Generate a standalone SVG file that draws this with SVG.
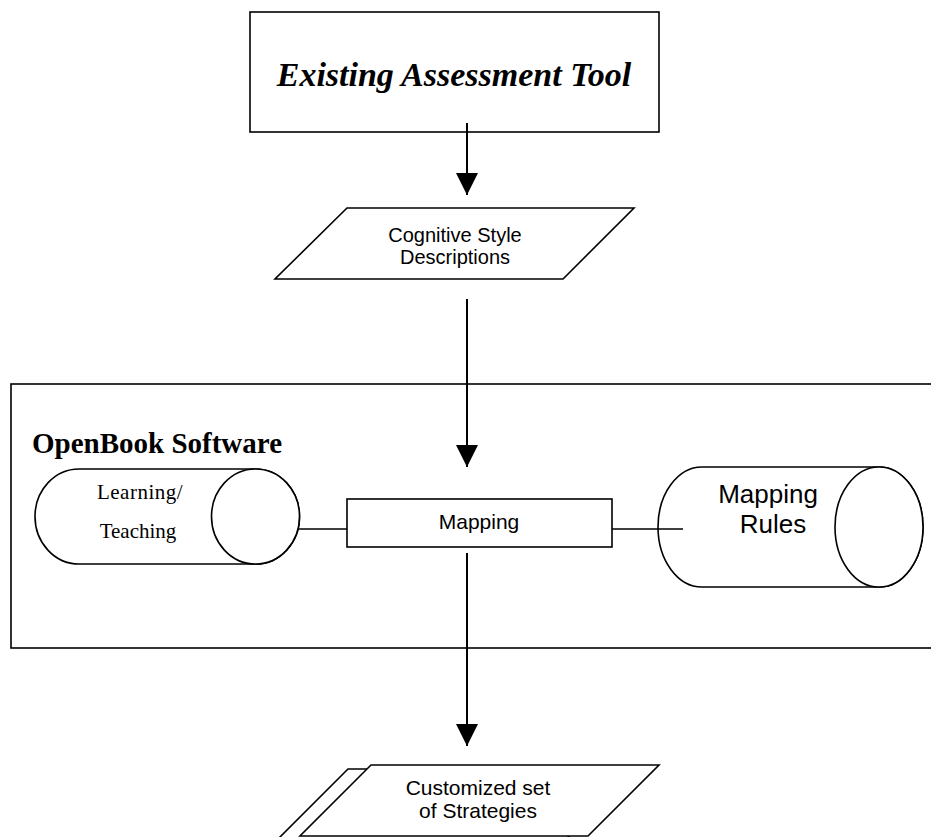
<svg xmlns="http://www.w3.org/2000/svg" width="931" height="837" viewBox="0 0 931 837">
<style>
.s{fill:#fff;stroke:#000;stroke-width:1.6}
.n{fill:none;stroke:#000;stroke-width:1.6}
.c{fill:none;stroke:#000;stroke-width:2}
.a{font-family:"Liberation Sans",Arial,sans-serif;fill:#000;text-anchor:middle}
.t{font-family:"Liberation Serif","Times New Roman",serif;fill:#000;text-anchor:middle}
.ts{font-family:"Liberation Serif","Times New Roman",serif;fill:#000;text-anchor:start}
</style>
<defs>
<marker id="arr" markerUnits="userSpaceOnUse" markerWidth="22" markerHeight="22" viewBox="0 0 20 20" refX="20" refY="10" orient="auto">
<path d="M0,0 L20,10 L0,20 Z" fill="#000"/>
</marker>
</defs>
<rect width="931" height="837" fill="#fff"/>
<g id="openbook">
<rect class="n" x="11" y="384" width="930" height="264"/>
<text class="ts" x="32" y="453" font-size="29" font-weight="bold">OpenBook Software</text>
</g>
<g id="assessment">
<rect class="s" x="250" y="12" width="409" height="120"/>
<text class="t" x="454" y="86" font-size="34" font-weight="bold" font-style="italic">Existing Assessment Tool</text>
</g>
<g id="cognitive">
<polygon class="s" points="347,208 634,208 563,279 275,279"/>
<text class="a" x="455" y="242" font-size="20">Cognitive Style</text>
<text class="a" x="455" y="264" font-size="20">Descriptions</text>
</g>
<g id="learning">
<path class="s" d="M79,469 H255.5 A44,47.5 0 0 1 255.5,564 H79 A44,47.5 0 0 1 79,469 Z"/>
<ellipse class="s" cx="255.5" cy="516.5" rx="44" ry="47.5"/>
<text class="t" x="140" y="499" font-size="21" letter-spacing="0.5">Learning/</text>
<text class="t" x="138" y="538" font-size="21">Teaching</text>
</g>
<g id="mapping">
<rect class="s" x="347" y="499" width="265" height="48"/>
<text class="a" x="479" y="529" font-size="21">Mapping</text>
</g>
<g id="rules">
<path class="s" d="M702,467 H879 A44,60 0 0 1 879,587 H702 A44,60 0 0 1 702,467 Z"/>
<ellipse class="s" cx="879" cy="527" rx="44" ry="60"/>
<text class="a" x="768" y="503" font-size="26">Mapping</text>
<text class="a" x="773" y="533" font-size="26">Rules</text>
</g>
<g id="strategies">
<polygon class="s" points="348,769 636,769 565,840 277,840"/>
<polygon class="s" points="371,765 659,765 588,836 300,836"/>
<text class="a" x="478" y="795" font-size="21">Customized set</text>
<text class="a" x="478" y="818" font-size="21">of Strategies</text>
</g>
<g id="connectors">
<line class="c" x1="467" y1="123" x2="467" y2="195" marker-end="url(#arr)"/>
<line class="c" x1="467" y1="299" x2="467" y2="467" marker-end="url(#arr)"/>
<line class="c" x1="467" y1="553" x2="467" y2="746" marker-end="url(#arr)"/>
<line class="n" x1="299" y1="529" x2="347" y2="529"/>
<line class="n" x1="612" y1="529" x2="683" y2="529"/>
</g>
</svg>
